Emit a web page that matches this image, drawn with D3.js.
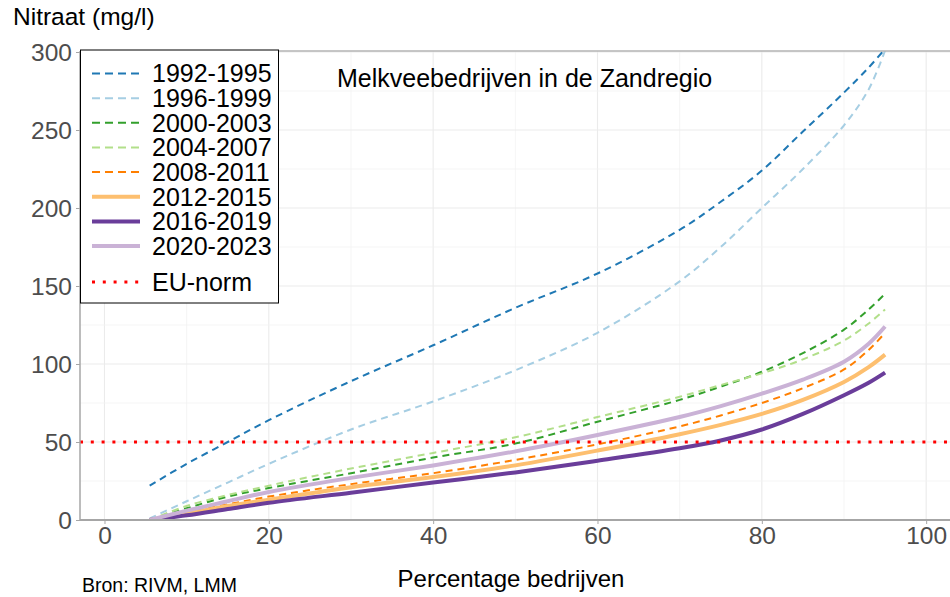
<!DOCTYPE html>
<html>
<head>
<meta charset="utf-8">
<script src="https://cdn.jsdelivr.net/npm/d3@7"></script>
<style>
  html, body { margin: 0; padding: 0; background: #fff; }
  text { font-family: "Liberation Sans", Arial, sans-serif; }
</style>
</head>
<body>
<svg id="chart" width="950" height="597"></svg>
<script>
// ---- data ----
const pct = [5.5, 10, 15, 20, 30, 40, 50, 60, 70, 75, 80, 85, 90, 93, 95];
const s1992 = [22, 36, 50, 64, 89, 112, 136, 158, 186, 204, 224, 249, 274, 290, 302];
const s1996 = [1, 12, 24, 36, 58, 76, 96, 120, 153, 175, 200, 225, 253, 276, 301];
const s2000 = [0, 7.5, 15, 20.5, 30, 40, 49, 63, 77, 85.5, 95, 107, 122, 135, 145];
const s2004 = [0, 9, 16, 22, 33, 43, 53, 66, 79, 86.5, 94, 103, 115, 126, 135];
const s2008 = [0, 5, 10, 15, 23, 30, 38.5, 48.5, 60, 67, 75, 84.5, 96.5, 109, 120];
const s2012 = [0, 4, 9, 13, 21, 27.5, 35, 44.5, 55, 61, 68, 77, 88.5, 98, 106];
const s2016 = [0, 3, 7, 11, 17.5, 24, 30.5, 38, 46, 51, 58, 68, 80, 88, 94.5];
const s2020 = [0, 6, 12, 18, 27, 35, 44, 54.5, 66, 73, 81, 90, 101.5, 113, 124];
const seriesNames = ["1992-1995", "1996-1999", "2000-2003", "2004-2007", "2008-2011", "2012-2015", "2016-2019", "2020-2023"];
const seriesValues = [s1992, s1996, s2000, s2004, s2008, s2012, s2016, s2020];
const euNorm = 50;
const xTicks = [0, 20, 40, 60, 80, 100];
const yTicks = [0, 50, 100, 150, 200, 250, 300];
const title = "Melkveebedrijven in de Zandregio";
const yTitle = "Nitraat (mg/l)";
const xTitle = "Percentage bedrijven";
const source = "Bron: RIVM, LMM";

// ---- styles ----
const colors = ["#1f78b4", "#a6cee3", "#33a02c", "#b2df8a", "#ff7f00", "#fdbf6f", "#6a3d9a", "#cab2d6"];
const dashed = [true, true, true, true, true, false, false, false];

const svg = d3.select("#chart");
const pLeft = 80, pRight = 950, pTop = 51, pBottom = 520;
const x = d3.scaleLinear().domain([-2.98, 102.9]).range([pLeft, pRight]);
const y = d3.scaleLinear().domain([0, 300]).range([pBottom, pTop + 1]);

// grid
const grid = svg.append("g");
d3.range(0, 101, 10).forEach(v => {
  grid.append("line").attr("x1", x(v)).attr("x2", x(v)).attr("y1", pTop).attr("y2", pBottom)
    .attr("stroke", v % 20 === 0 ? "#ebebeb" : "#f3f3f3").attr("stroke-width", v % 20 === 0 ? 1.1 : 0.8);
});
d3.range(0, 301, 25).forEach(v => {
  grid.append("line").attr("x1", pLeft).attr("x2", pRight).attr("y1", y(v)).attr("y2", y(v))
    .attr("stroke", v % 50 === 0 ? "#ebebeb" : "#f3f3f3").attr("stroke-width", v % 50 === 0 ? 1.1 : 0.8);
});

// clip
svg.append("clipPath").attr("id", "clip").append("rect")
  .attr("x", pLeft).attr("y", pTop).attr("width", pRight - pLeft).attr("height", pBottom - pTop);

const line = d3.line().x(d => x(d[0])).y(d => y(d[1])).curve(d3.curveCatmullRom.alpha(0.5));
const lines = svg.append("g").attr("clip-path", "url(#clip)");
seriesValues.forEach((vals, i) => {
  lines.append("path")
    .datum(pct.map((p, j) => [p, vals[j]]))
    .attr("d", line)
    .attr("fill", "none")
    .attr("stroke", colors[i])
    .attr("stroke-width", dashed[i] ? 2 : 4)
    .attr("stroke-dasharray", dashed[i] ? "7,5" : null);
});

// EU norm
svg.append("line").attr("x1", pLeft).attr("x2", pRight).attr("y1", y(euNorm)).attr("y2", y(euNorm))
  .attr("stroke", "#ff0000").attr("stroke-width", 3).attr("stroke-dasharray", "3,7.8");

// axis lines
svg.append("line").attr("x1", pLeft).attr("x2", pRight).attr("y1", pTop).attr("y2", pTop)
  .attr("stroke", "#b3b3b3").attr("stroke-width", 1.5);
svg.append("line").attr("x1", pLeft).attr("x2", pRight).attr("y1", pBottom).attr("y2", pBottom)
  .attr("stroke", "#a6a6a6").attr("stroke-width", 2);
svg.append("line").attr("x1", pLeft).attr("x2", pLeft).attr("y1", pTop).attr("y2", pBottom)
  .attr("stroke", "#a6a6a6").attr("stroke-width", 1.5);

// axes via d3
const xAxis = svg.append("g").attr("transform", `translate(0,${pBottom})`)
  .call(d3.axisBottom(x).tickValues(xTicks).tickSize(4).tickPadding(4).tickFormat(d3.format("d")));
const yAxis = svg.append("g").attr("transform", `translate(${pLeft},0)`)
  .call(d3.axisLeft(y).tickValues(yTicks).tickSize(4).tickPadding(4).tickFormat(d3.format("d")));
[xAxis, yAxis].forEach(a => {
  a.select(".domain").remove();
  a.selectAll(".tick line").attr("stroke", "#a6a6a6").attr("stroke-width", 1);
  a.selectAll(".tick text").attr("fill", "#4d4d4d").style("font-size", "24.5px")
    .style("font-family", "'Liberation Sans', Arial, sans-serif");
});
xAxis.selectAll(".tick text").attr("dy", null).attr("y", 23.5);
yAxis.selectAll(".tick text").attr("dy", "0.35em");

// legend
const lg = svg.append("g");
lg.append("rect").attr("x", 80.5).attr("y", 50).attr("width", 198).attr("height", 253)
  .attr("fill", "#fff").attr("stroke", "#000").attr("stroke-width", 1);
const rowY = i => 73.5 + i * 24.65;
seriesNames.forEach((n, i) => {
  lg.append("line").attr("x1", 92).attr("x2", 140).attr("y1", rowY(i)).attr("y2", rowY(i))
    .attr("stroke", colors[i]).attr("stroke-width", dashed[i] ? 2 : 4)
    .attr("stroke-dasharray", dashed[i] ? "8,5" : null);
  lg.append("text").attr("x", 152).attr("y", rowY(i)).attr("dy", "0.35em")
    .style("font-size", "25px").attr("fill", "#000").text(n);
});
lg.append("line").attr("x1", 92).attr("x2", 140).attr("y1", 282).attr("y2", 282)
  .attr("stroke", "#ff0000").attr("stroke-width", 3).attr("stroke-dasharray", "3,7.8");
lg.append("text").attr("x", 152).attr("y", 282).attr("dy", "0.35em")
  .style("font-size", "25px").attr("fill", "#000").text("EU-norm");

// texts
svg.append("text").attr("x", 337).attr("y", 87).style("font-size", "25px").attr("fill", "#000").text(title);
svg.append("text").attr("x", 13).attr("y", 25).style("font-size", "24.5px").attr("fill", "#000").text(yTitle);
svg.append("text").attr("x", 511).attr("y", 587).attr("text-anchor", "middle").style("font-size", "24px").attr("fill", "#000").text(xTitle);
svg.append("text").attr("x", 82).attr("y", 592).style("font-size", "19.5px").attr("fill", "#000").text(source);
</script>
</body>
</html>
